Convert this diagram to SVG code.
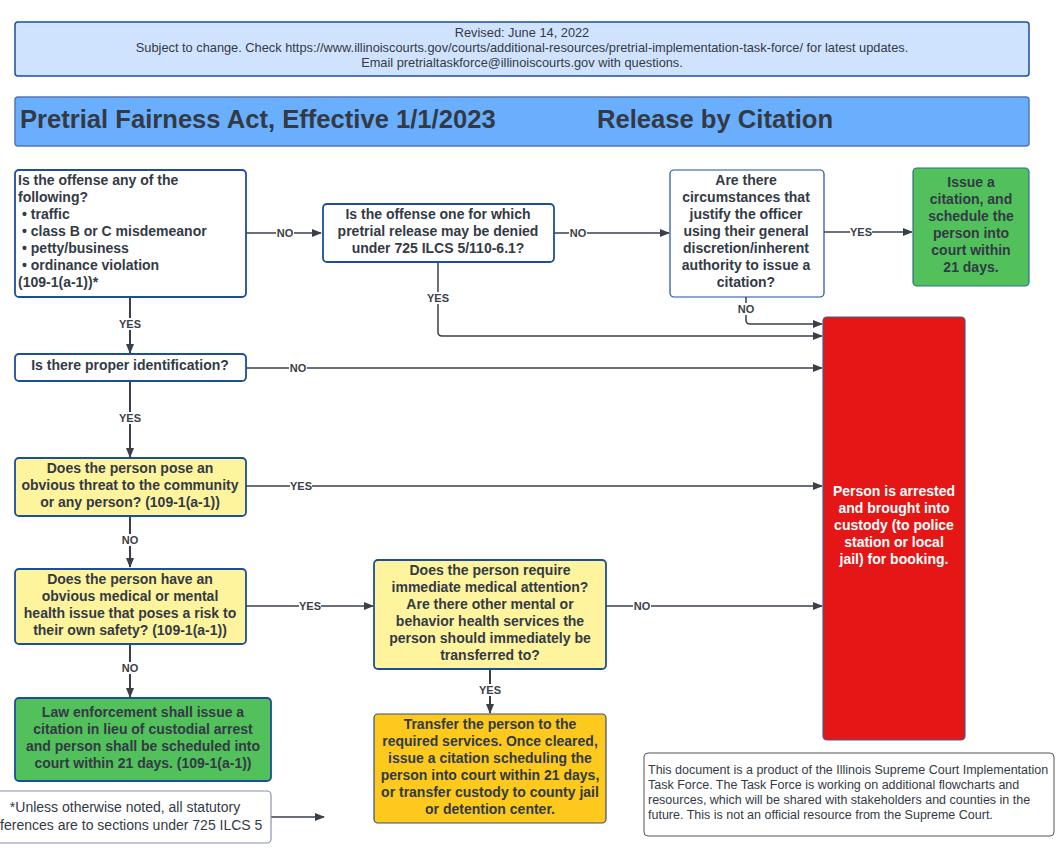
<svg xmlns="http://www.w3.org/2000/svg" width="1062" height="853" viewBox="0 0 1062 853">
<style>
text{font-family:"Liberation Sans",Arial,sans-serif;fill:#333a45}
.b{font-weight:bold;font-size:14px}
.c{text-anchor:middle}
.lbl{font-size:11px;font-weight:bold;text-anchor:middle;fill:#3a3f4a}
.n{stroke:#1d4e9a;stroke-width:1.8}
.w{fill:#fff}
.y{fill:#fef49e}
.g{fill:#52c15c}
.o{fill:#fcc91c}
.r{fill:#e41616}
.e{fill:none;stroke:#3a3f4a;stroke-width:1.5}
.lb{fill:#fff}
</style>
<defs>
<marker id="a" markerWidth="10" markerHeight="8" refX="9" refY="4" orient="auto" markerUnits="userSpaceOnUse">
<path d="M0,0 L10,4 L0,8 Z" fill="#3a3f4a"/>
</marker>
</defs>
<rect width="1062" height="853" fill="#fff"/>

<g id="header">
<rect x="15" y="22" width="1014" height="54" rx="3" fill="#cfe3ff" stroke="#1d4e9a" stroke-width="1.5"/>
<text x="522" y="37" font-size="12.8" class="c">Revised: June 14, 2022</text>
<text x="522" y="52" font-size="12.8" class="c">Subject to change. Check https://www.illinoiscourts.gov/courts/additional-resources/pretrial-implementation-task-force/ for latest updates.</text>
<text x="522" y="67" font-size="12.8" class="c">Email pretrialtaskforce@illinoiscourts.gov with questions.</text>
</g>

<g id="title">
<rect x="15" y="97" width="1014" height="49" rx="3" fill="#6aaffd" stroke="#5577b0" stroke-width="1.5"/>
<text x="20" y="128" font-size="25.6" font-weight="bold" fill="#3a3f4a">Pretrial Fairness Act, Effective 1/1/2023</text>
<text x="597" y="128" font-size="25.6" font-weight="bold" fill="#3a3f4a">Release by Citation</text>
</g>

<g id="connectors">
<path class="e" d="M246,233 H321" marker-end="url(#a)"/>
<path class="e" d="M554,233 H669" marker-end="url(#a)"/>
<path class="e" d="M824,232 H912" marker-end="url(#a)"/>
<path class="e" d="M746,297 V320 Q746,324 750,324 H822" marker-end="url(#a)"/>
<path class="e" d="M438,262 V332 Q438,336 442,336 H822" marker-end="url(#a)"/>
<path class="e" style="stroke-width:2" d="M130,297 V353" marker-end="url(#a)"/>
<path class="e" d="M246,368 H822" marker-end="url(#a)"/>
<path class="e" style="stroke-width:2" d="M130,381 V457" marker-end="url(#a)"/>
<path class="e" d="M246,486 H822" marker-end="url(#a)"/>
<path class="e" style="stroke-width:2" d="M130,516 V567" marker-end="url(#a)"/>
<path class="e" d="M246,606 H373" marker-end="url(#a)"/>
<path class="e" d="M606,606 H822" marker-end="url(#a)"/>
<path class="e" style="stroke-width:2" d="M490,669 V713" marker-end="url(#a)"/>
<path class="e" style="stroke-width:2" d="M130,644 V697" marker-end="url(#a)"/>
<path class="e" d="M271,817 H324" marker-end="url(#a)"/>
<rect class="lb" x="276" y="227" width="18" height="12"/><text class="lbl" x="285" y="237">NO</text>
<rect class="lb" x="569" y="227" width="18" height="12"/><text class="lbl" x="578" y="237">NO</text>
<rect class="lb" x="850" y="226" width="22" height="12"/><text class="lbl" x="861" y="236">YES</text>
<rect class="lb" x="736" y="303" width="20" height="12"/><text class="lbl" x="746" y="313">NO</text>
<rect class="lb" x="425" y="292" width="26" height="12"/><text class="lbl" x="438" y="302">YES</text>
<rect class="lb" x="117" y="318" width="26" height="12"/><text class="lbl" x="130" y="328">YES</text>
<rect class="lb" x="289" y="362" width="18" height="12"/><text class="lbl" x="298" y="372">NO</text>
<rect class="lb" x="117" y="412" width="26" height="12"/><text class="lbl" x="130" y="422">YES</text>
<rect class="lb" x="290" y="480" width="22" height="12"/><text class="lbl" x="301" y="490">YES</text>
<rect class="lb" x="120" y="534" width="20" height="12"/><text class="lbl" x="130" y="544">NO</text>
<rect class="lb" x="299" y="600" width="22" height="12"/><text class="lbl" x="310" y="610">YES</text>
<rect class="lb" x="633" y="600" width="18" height="12"/><text class="lbl" x="642" y="610">NO</text>
<rect class="lb" x="477" y="684" width="26" height="12"/><text class="lbl" x="490" y="694">YES</text>
<rect class="lb" x="120" y="662" width="20" height="12"/><text class="lbl" x="130" y="672">NO</text>
</g>

<g id="q-offense">
<rect class="n w" x="15" y="170" width="231" height="127" rx="4"/>
<text class="b" x="18" y="185">Is the offense any of the</text>
<text class="b" x="18" y="202">following?</text>
<text class="b" x="22" y="219">• traffic</text>
<text class="b" x="22" y="236">• class B or C misdemeanor</text>
<text class="b" x="22" y="253">• petty/business</text>
<text class="b" x="22" y="270">• ordinance violation</text>
<text class="b" x="18" y="287">(109-1(a-1))*</text>
</g>

<g id="q-denial">
<rect class="n w" x="323" y="204" width="231" height="58" rx="4"/>
<text class="b c" x="438" y="219">Is the offense one for which</text>
<text class="b c" x="438" y="236">pretrial release may be denied</text>
<text class="b c" x="438" y="253">under  725 ILCS 5/110-6.1?</text>
</g>

<g id="q-discretion">
<rect class="w" x="670" y="170" width="154" height="127" rx="4" stroke="#1d4e9a" stroke-width="1.2"/>
<text class="b c" x="746" y="185">Are there</text>
<text class="b c" x="746" y="202">circumstances that</text>
<text class="b c" x="746" y="219">justify the officer</text>
<text class="b c" x="746" y="236">using their general</text>
<text class="b c" x="746" y="253">discretion/inherent</text>
<text class="b c" x="746" y="270">authority to issue a</text>
<text class="b c" x="746" y="287">citation?</text>
</g>

<g id="issue-citation">
<rect class="g" x="913" y="168" width="116" height="118" rx="4" stroke="#2f6e8a" stroke-width="1.2"/>
<text class="b c" x="971" y="187">Issue a</text>
<text class="b c" x="971" y="204">citation, and</text>
<text class="b c" x="971" y="221">schedule the</text>
<text class="b c" x="971" y="238">person into</text>
<text class="b c" x="971" y="255">court within</text>
<text class="b c" x="971" y="272">21 days.</text>
</g>

<g id="arrested">
<rect class="r" x="823" y="317" width="142" height="423" rx="4" stroke="#4b5a8a" stroke-width="1.2"/>
<text class="b c" x="894" y="496" style="fill:#fff">Person is arrested</text>
<text class="b c" x="894" y="513" style="fill:#fff">and brought into</text>
<text class="b c" x="894" y="530" style="fill:#fff">custody (to police</text>
<text class="b c" x="894" y="547" style="fill:#fff">station or local</text>
<text class="b c" x="894" y="564" style="fill:#fff">jail) for booking.</text>
</g>

<g id="q-identification">
<rect class="n w" x="15" y="354" width="231" height="27" rx="4"/>
<text class="b c" x="130" y="370">Is there proper identification?</text>
</g>

<g id="q-threat">
<rect class="n y" x="15" y="458" width="231" height="58" rx="4"/>
<text class="b c" x="130" y="473">Does the person pose an</text>
<text class="b c" x="130" y="490">obvious threat to the community</text>
<text class="b c" x="130" y="507">or any person? (109-1(a-1))</text>
</g>

<g id="q-medical">
<rect class="n y" x="15" y="569" width="231" height="75" rx="4"/>
<text class="b c" x="130" y="584">Does the person have an</text>
<text class="b c" x="130" y="601">obvious medical or mental</text>
<text class="b c" x="130" y="618">health issue that poses a risk to</text>
<text class="b c" x="130" y="635">their own safety? (109-1(a-1))</text>
</g>

<g id="q-immediate">
<rect class="n y" x="374" y="560" width="232" height="109" rx="4"/>
<text class="b c" x="490" y="575">Does the person require</text>
<text class="b c" x="490" y="592">immediate medical attention?</text>
<text class="b c" x="490" y="609">Are there other mental or</text>
<text class="b c" x="490" y="626">behavior health services the</text>
<text class="b c" x="490" y="643">person should immediately be</text>
<text class="b c" x="490" y="660">transferred to?</text>
</g>

<g id="transfer">
<rect class="o" x="374" y="714" width="232" height="109" rx="4" stroke="#3a4f7a" stroke-width="1.2"/>
<text class="b c" x="490" y="729">Transfer the person to the</text>
<text class="b c" x="490" y="746">required services. Once cleared,</text>
<text class="b c" x="490" y="763">issue a citation scheduling the</text>
<text class="b c" x="490" y="780">person into court within 21 days,</text>
<text class="b c" x="490" y="797">or transfer custody to county jail</text>
<text class="b c" x="490" y="814">or detention center.</text>
</g>

<g id="law-citation">
<rect class="n g" x="15" y="698" width="256" height="83" rx="4"/>
<text class="b c" x="143" y="717">Law enforcement shall issue a</text>
<text class="b c" x="143" y="734">citation in lieu of custodial arrest</text>
<text class="b c" x="143" y="751">and person shall be scheduled into</text>
<text class="b c" x="143" y="768">court within 21 days. (109-1(a-1))</text>
</g>

<g id="footnote">
<rect x="-20" y="791" width="291" height="52" rx="4" fill="#fff" stroke="#8890b0" stroke-width="1.2"/>
<text x="125" y="812" font-size="14" class="c">*Unless otherwise noted, all statutory</text>
<text x="125" y="830" font-size="14" class="c">references are to sections under 725 ILCS 5</text>
</g>

<g id="disclaimer">
<rect x="644" y="753" width="410" height="83" rx="4" fill="#fff" stroke="#555" stroke-width="1"/>
<text x="648" y="774" font-size="12.5" fill="#111">This document is a product of the Illinois Supreme Court Implementation</text>
<text x="648" y="789" font-size="12.5" fill="#111">Task Force. The Task Force is working on additional flowcharts and</text>
<text x="648" y="804" font-size="12.5" fill="#111">resources, which will be shared with stakeholders and counties in the</text>
<text x="648" y="819" font-size="12.5" fill="#111">future. This is not an official resource from the Supreme Court.</text>
</g>
</svg>
